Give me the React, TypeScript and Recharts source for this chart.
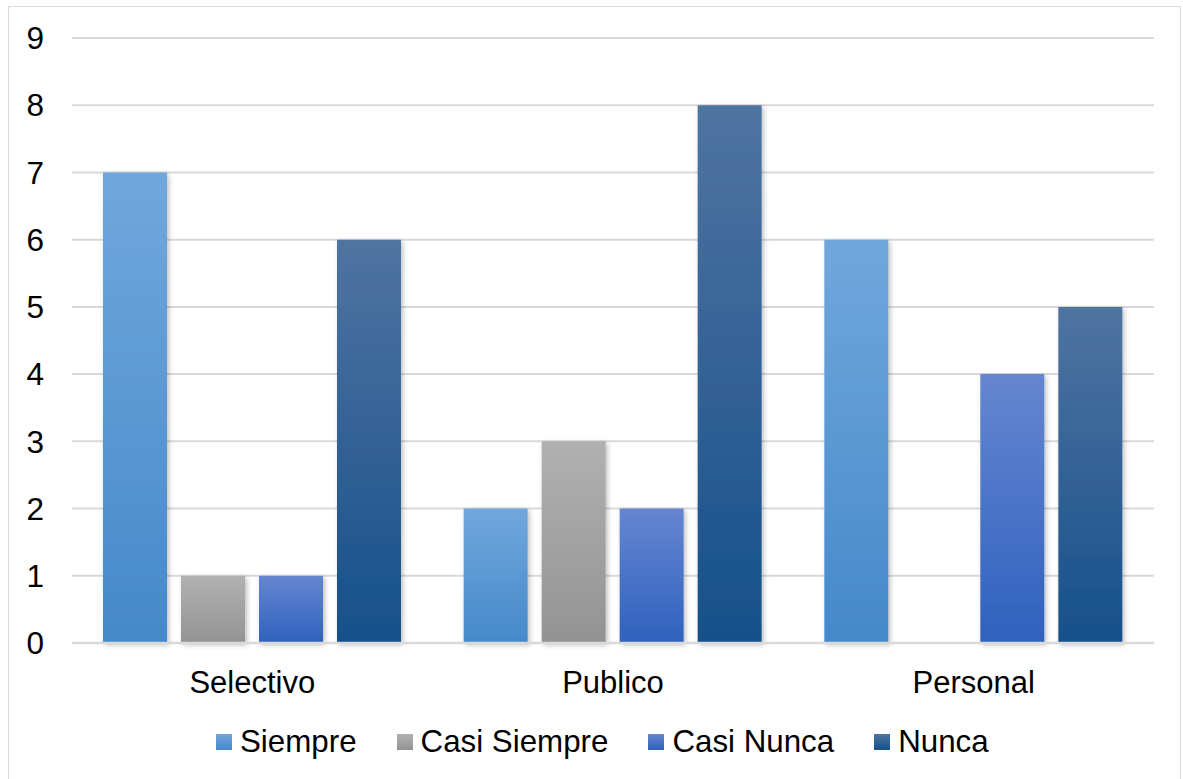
import React from 'react';
import { BarChart, Bar, XAxis, YAxis, CartesianGrid, Legend } from 'recharts';

const categories = ['Selectivo', 'Publico', 'Personal'];
const siempre = [7, 2, 6];
const casiSiempre = [1, 3, 0];
const casiNunca = [1, 2, 4];
const nunca = [6, 8, 5];
const yTicks = [0, 1, 2, 3, 4, 5, 6, 7, 8, 9];

const seriesNames = ['Siempre', 'Casi Siempre', 'Casi Nunca', 'Nunca'];
const seriesKeys = ['siempre', 'casiSiempre', 'casiNunca', 'nunca'];
const gradients = [
  ['#71a7dc', '#4589cb'],
  ['#b1b1b1', '#939393'],
  ['#6586d1', '#2f61bd'],
  ['#4f74a1', '#16508a'],
];

const data = categories.map((c, i) => ({
  name: c,
  siempre: siempre[i],
  casiSiempre: casiSiempre[i],
  casiNunca: casiNunca[i],
  nunca: nunca[i],
}));

const FONT = '"Liberation Sans", Arial, sans-serif';

const LegendContent = () => (
  <div
    style={{
      display: 'flex',
      alignItems: 'center',
      height: 40,
      paddingLeft: 216,
      fontFamily: FONT,
      fontSize: 31.3,
      color: '#000',
      whiteSpace: 'nowrap',
    }}
  >
    {seriesNames.map((n, i) => (
      <div key={n} style={{ display: 'flex', alignItems: 'center', marginRight: 40 }}>
        <div
          style={{
            width: 16,
            height: 16,
            marginRight: 8,
            background: `linear-gradient(${gradients[i][0]}, ${gradients[i][1]})`,
          }}
        />
        <span>{n}</span>
      </div>
    ))}
  </div>
);

export default function App() {
  return (
    <div style={{ position: 'absolute', left: 0, top: 0, width: 1183, height: 779, background: '#fff', overflow: 'hidden' }}>
      <div
        style={{
          position: 'absolute',
          left: 8,
          top: 6,
          width: 1173,
          height: 790,
          border: '1px solid #d9d9d9',
          boxSizing: 'border-box',
        }}
      />
      <div style={{ position: 'absolute', left: 0, top: 0 }}>
        <BarChart
          width={1183}
          height={779}
          data={data}
          margin={{ top: 38, right: 29, left: 0, bottom: 17 }}
          barCategoryGap={31}
          barGap={14}
        >
          <defs>
            {gradients.map((g, i) => (
              <linearGradient key={i} id={`grad${i}`} x1="0" y1="0" x2="0" y2="1">
                <stop offset="0%" stopColor={g[0]} />
                <stop offset="100%" stopColor={g[1]} />
              </linearGradient>
            ))}
            <filter id="shadow" x="-20%" y="-5%" width="140%" height="115%">
              <feDropShadow dx="2" dy="2" stdDeviation="2.5" floodColor="#000" floodOpacity="0.25" />
            </filter>
          </defs>
          <CartesianGrid vertical={false} stroke="#d9d9d9" strokeWidth={2} />
          <XAxis
            dataKey="name"
            height={79}
            tickLine={false}
            tickSize={0}
            tickMargin={28}
            axisLine={{ stroke: '#d9d9d9', strokeWidth: 2.5 }}
            tick={{ fontSize: 31, fill: '#000', fontFamily: FONT }}
          />
          <YAxis
            width={72}
            domain={[0, 9]}
            ticks={yTicks}
            interval={0}
            tickLine={false}
            tickSize={0}
            tickMargin={28}
            axisLine={false}
            tick={{ fontSize: 31.5, fill: '#000', fontFamily: FONT }}
          />
          <Legend verticalAlign="bottom" content={<LegendContent />} />
          {seriesKeys.map((k, i) => (
            <Bar
              key={k}
              dataKey={k}
              name={seriesNames[i]}
              fill={`url(#grad${i})`}
              filter="url(#shadow)"
              isAnimationActive={false}
            />
          ))}
        </BarChart>
      </div>
    </div>
  );
}
